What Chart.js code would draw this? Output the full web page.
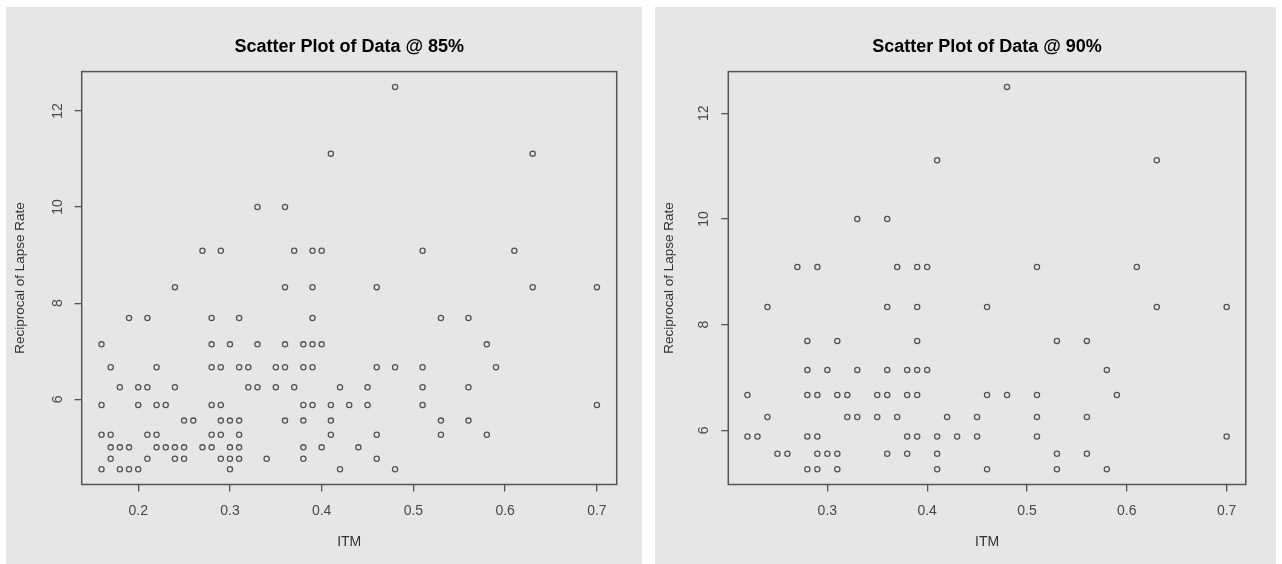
<!DOCTYPE html>
<html>
<head>
<meta charset="utf-8">
<script src="https://cdn.jsdelivr.net/npm/chart.js@4"></script>
<style>
  body { margin: 0; background: #fff; width: 1282px; height: 564px; position: relative; overflow: hidden; }
  .panel { position: absolute; background: #e6e6e6; }
  canvas { display: block; }
</style>
</head>
<body>
<div class="panel" style="left:6px;top:7px;width:636px;height:557px"><canvas id="chart85" width="636" height="557"></canvas></div>
<div class="panel" style="left:655px;top:7px;width:621px;height:557px"><canvas id="chart90" width="621" height="557"></canvas></div>
<script>
// reciprocal of lapse rate levels (1/0.08 ... 1/0.22)
const recipLevels = [12.5, 11.111, 10, 9.091, 8.333, 7.692, 7.143, 6.667, 6.25, 5.882, 5.556, 5.263, 5, 4.762, 4.545];

// ITM values found on each level, @ 85%
const itm85 = [
    [0.48],
    [0.41, 0.63],
    [0.33, 0.36],
    [0.27, 0.29, 0.37, 0.39, 0.40, 0.51, 0.61],
    [0.24, 0.36, 0.39, 0.46, 0.63, 0.70],
    [0.19, 0.21, 0.28, 0.31, 0.39, 0.53, 0.56],
    [0.16, 0.28, 0.30, 0.33, 0.36, 0.38, 0.39, 0.40, 0.58],
    [0.17, 0.22, 0.28, 0.29, 0.31, 0.32, 0.35, 0.36, 0.38, 0.39, 0.46, 0.48, 0.51, 0.59],
    [0.18, 0.20, 0.21, 0.24, 0.32, 0.33, 0.35, 0.37, 0.42, 0.45, 0.51, 0.56],
    [0.16, 0.20, 0.22, 0.23, 0.28, 0.29, 0.38, 0.39, 0.41, 0.43, 0.45, 0.51, 0.70],
    [0.25, 0.26, 0.29, 0.30, 0.31, 0.36, 0.38, 0.41, 0.53, 0.56],
    [0.16, 0.17, 0.21, 0.22, 0.28, 0.29, 0.31, 0.41, 0.46, 0.53, 0.58],
    [0.17, 0.18, 0.19, 0.22, 0.23, 0.24, 0.25, 0.27, 0.28, 0.30, 0.31, 0.38, 0.40, 0.44],
    [0.17, 0.21, 0.24, 0.25, 0.29, 0.30, 0.31, 0.34, 0.38, 0.46],
    [0.16, 0.18, 0.19, 0.20, 0.30, 0.42, 0.48]
];

// ITM values found on each level, @ 90%
const itm90 = [
    [0.48],
    [0.41, 0.63],
    [0.33, 0.36],
    [0.27, 0.29, 0.37, 0.39, 0.40, 0.51, 0.61],
    [0.24, 0.36, 0.39, 0.46, 0.63, 0.70],
    [0.28, 0.31, 0.39, 0.53, 0.56],
    [0.28, 0.30, 0.33, 0.36, 0.38, 0.39, 0.40, 0.58],
    [0.22, 0.28, 0.29, 0.31, 0.32, 0.35, 0.36, 0.38, 0.39, 0.46, 0.48, 0.51, 0.59],
    [0.24, 0.32, 0.33, 0.35, 0.37, 0.42, 0.45, 0.51, 0.56],
    [0.22, 0.23, 0.28, 0.29, 0.38, 0.39, 0.41, 0.43, 0.45, 0.51, 0.70],
    [0.25, 0.26, 0.29, 0.30, 0.31, 0.36, 0.38, 0.41, 0.53, 0.56],
    [0.28, 0.29, 0.31, 0.41, 0.46, 0.53, 0.58],
    [],
    [],
    []
];

const xTicks85 = [0.2, 0.3, 0.4, 0.5, 0.6, 0.7];
const xTicks90 = [0.3, 0.4, 0.5, 0.6, 0.7];
const yTicks = [6, 8, 10, 12];

const FONT = "'Liberation Sans', Arial, sans-serif";
const AXIS = '#555';

// R style box round the plot region
const boxPlugin = {
    id: 'box',
    afterDraw(chart) {
        const { ctx, chartArea: a } = chart;
        ctx.save();
        ctx.strokeStyle = AXIS;
        ctx.lineWidth = 1.5;
        ctx.strokeRect(a.left, a.top, a.right - a.left, a.bottom - a.top);
        ctx.restore();
    }
};

// R pads the data range by 4% on each side
function range(vals) {
    const lo = Math.min(...vals), hi = Math.max(...vals);
    const pad = (hi - lo) * 0.04;
    return [lo - pad, hi + pad];
}

function makeChart(id, title, rows, xTicks, lay) {
    const points = [];
    rows.forEach((row, i) => row.forEach(x => points.push({ x: x, y: recipLevels[i] })));
    const [xMin, xMax] = range(points.map(p => p.x));
    const [yMin, yMax] = range(points.map(p => p.y));

    new Chart(document.getElementById(id), {
        type: 'scatter',
        data: {
            datasets: [{
                data: points,
                pointStyle: 'circle',
                pointRadius: 2.6,
                pointHoverRadius: 2.6,
                pointBorderWidth: 1.3,
                pointBorderColor: AXIS,
                pointBackgroundColor: 'rgba(0,0,0,0)'
            }]
        },
        options: {
            responsive: false,
            animation: false,
            layout: { padding: { left: 0, top: 0, right: lay.right, bottom: 0 } },
            plugins: {
                legend: { display: false },
                tooltip: { enabled: false },
                title: {
                    display: true,
                    text: title,
                    fullSize: false,
                    color: '#000',
                    font: { family: FONT, size: 18, weight: 'bold' },
                    padding: { top: 29, bottom: 14 }
                }
            },
            scales: {
                x: {
                    type: 'linear',
                    min: xMin,
                    max: xMax,
                    afterBuildTicks: s => { s.ticks = xTicks.map(v => ({ value: v })); },
                    afterFit: s => { s.height = 79.5; },
                    border: { display: false },
                    grid: { drawOnChartArea: false, tickLength: 7, color: AXIS, lineWidth: 1.3 },
                    ticks: {
                        autoSkip: false,
                        maxRotation: 0,
                        padding: 11,
                        color: '#484848',
                        font: { family: FONT, size: 14 },
                        callback: v => String(v)
                    },
                    title: {
                        display: true,
                        text: 'ITM',
                        color: '#333',
                        font: { family: FONT, size: 14 },
                        padding: { top: 0, bottom: 13 }
                    }
                },
                y: {
                    type: 'linear',
                    min: yMin,
                    max: yMax,
                    afterBuildTicks: s => { s.ticks = yTicks.map(v => ({ value: v })); },
                    afterFit: s => { s.width = lay.left; },
                    border: { display: false },
                    grid: { drawOnChartArea: false, tickLength: 7, color: AXIS, lineWidth: 1.3 },
                    ticks: {
                        minRotation: 90,
                        maxRotation: 90,
                        crossAlign: 'center',
                        padding: 9,
                        color: '#484848',
                        font: { family: FONT, size: 14 },
                        callback: v => String(v)
                    },
                    title: {
                        display: true,
                        text: 'Reciprocal of Lapse Rate',
                        color: '#333',
                        font: { family: FONT, size: 13.5 },
                        padding: { top: 6, bottom: 0 }
                    }
                }
            }
        },
        plugins: [boxPlugin]
    });
}

makeChart('chart85', 'Scatter Plot of Data @ 85%', itm85, xTicks85, { left: 75.7, right: 25.3 });
makeChart('chart90', 'Scatter Plot of Data @ 90%', itm90, xTicks90, { left: 73.3, right: 30.2 });
</script>
</body>
</html>
